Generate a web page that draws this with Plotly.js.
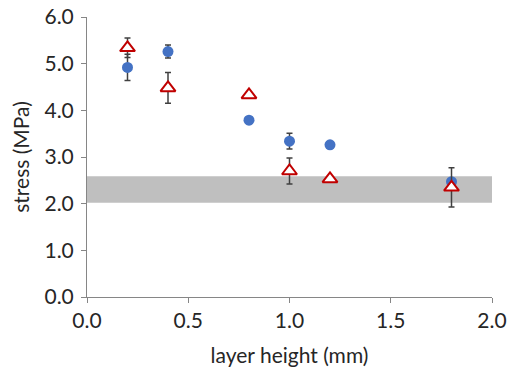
<!DOCTYPE html>
<html>
<head>
<meta charset="utf-8">
<script src="https://cdn.plot.ly/plotly-3.0.1.min.js"></script>
<style>html,body{margin:0;padding:0;background:#fff;}#chart{width:507px;height:372px;}</style>
</head>
<body>
<div id="chart"></div>
<script>
const layerHeight = [0.2, 0.4, 0.8, 1.0, 1.2, 1.8];
const circleStress = [4.92, 5.26, 3.79, 3.34, 3.26, 2.47];
const circleErr = [0.28, 0.14, 0.07, 0.17, 0.05, 0.05];
const triangleStress = [5.34, 4.48, 4.33, 2.70, 2.53, 2.35];
const triangleErr = [0.21, 0.33, 0.0, 0.28, 0.0, 0.42];
const bandRange = [2.02, 2.59];
const bandX = [0.0, 2.0];
const xTicks = [0.0, 0.5, 1.0, 1.5, 2.0];
const yTicks = [0, 1, 2, 3, 4, 5, 6];

const font = "Lato, 'Open Sans', sans-serif";

const traces = [
  {
    x: layerHeight, y: circleStress, type: 'scatter', mode: 'markers',
    marker: {symbol: 'circle', size: 11, color: '#4472C4'},
    error_y: {type: 'data', array: circleErr, visible: true, color: '#404040', thickness: 1.5, width: 3},
    showlegend: false
  },
  {
    x: layerHeight, y: triangleStress, type: 'scatter', mode: 'markers',
    marker: {symbol: 'triangle-up', size: 13, color: '#FFFFFF', line: {width: 2, color: '#C00000'}},
    error_y: {type: 'data', array: triangleErr, visible: true, color: '#404040', thickness: 1.5, width: 3},
    showlegend: false
  }
];

const layout = {
  width: 507, height: 372,
  margin: {l: 87, r: 15, t: 17, b: 75},
  paper_bgcolor: '#fff', plot_bgcolor: '#fff',
  font: {family: font, size: 21, color: '#262626'},
  xaxis: {
    range: [0, 2], tickvals: xTicks, ticktext: xTicks.map(v => v.toFixed(1)),
    showgrid: false, zeroline: false, showline: true, linecolor: '#868686', linewidth: 1,
    ticks: 'outside', ticklen: 5, tickcolor: '#868686',
    title: {text: 'layer height (mm)', font: {family: font, size: 21, color: '#262626'}, standoff: 17}
  },
  yaxis: {
    range: [0, 6], tickvals: yTicks, ticktext: yTicks.map(v => v.toFixed(1)),
    showgrid: false, zeroline: false, showline: true, linecolor: '#868686', linewidth: 1,
    ticks: 'outside', ticklen: 5, tickcolor: '#868686', ticklabelstandoff: 3,
    title: {text: 'stress (MPa)', font: {family: font, size: 21, color: '#262626'}, standoff: 9}
  },
  shapes: [{
    type: 'rect', xref: 'x', yref: 'y', layer: 'below',
    x0: bandX[0], x1: bandX[1], y0: bandRange[0], y1: bandRange[1],
    fillcolor: '#BFBFBF', line: {width: 0}
  }]
};

Plotly.newPlot('chart', traces, layout, {displayModeBar: false, staticPlot: true});
</script>
</body>
</html>
